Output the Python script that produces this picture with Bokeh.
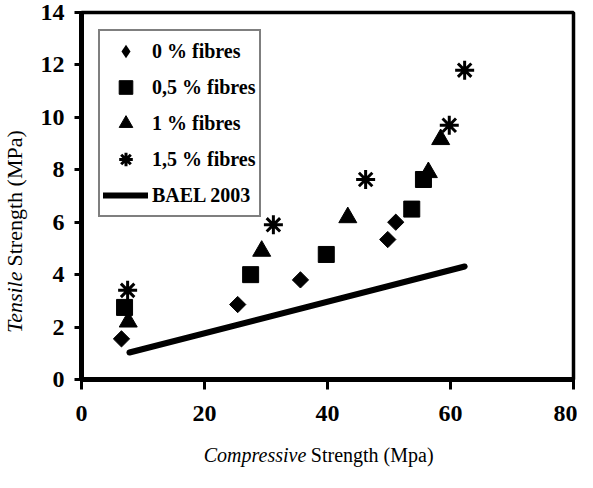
import math
from bokeh.plotting import figure
from bokeh.layouts import row, column
from bokeh.models import Range1d, Legend, LegendItem, FixedTicker
from bokeh.core.properties import value
from bokeh.embed import file_html
from bokeh.resources import INLINE

# Data
c_0 = [6.5, 25.4, 35.6, 49.8, 51.1]
t_0 = [1.55, 2.86, 3.8, 5.34, 6.0]
c_05 = [7.0, 27.5, 39.8, 53.7, 55.6]
t_05 = [2.75, 4.0, 4.77, 6.5, 7.63]
c_1 = [7.6, 29.3, 43.3, 56.4, 58.4]
t_1 = [2.2, 4.9, 6.18, 7.9, 9.16]
c_15 = [7.5, 31.2, 46.2, 59.8, 62.3]
t_15 = [3.4, 5.9, 7.63, 9.7, 11.8]
bael_c = [7.8, 62.3]
bael_t = [1.03, 4.31]

labels = ["0 % fibres", "0,5 % fibres", "1 % fibres", "1,5 % fibres", "BAEL 2003"]
x_ticks = [0, 20, 40, 60, 80]
y_ticks = [0, 2, 4, 6, 8, 10, 12, 14]
x_title = ["Compressive", "Strength (Mpa)"]
y_title = ["Tensile", "Strength (MPa)"]

FONT = "Liberation Serif"

LEFT_W = 32
BOTTOM_H = 30
TOTAL_W = 577
TOTAL_H = 470

p = figure(width=TOTAL_W - LEFT_W, height=TOTAL_H - BOTTOM_H, output_backend="svg",
           toolbar_location=None, x_range=Range1d(0, 80), y_range=Range1d(0, 14),
           min_border_left=49, min_border_right=4, min_border_top=12, min_border_bottom=61)
p.xgrid.visible = False
p.ygrid.visible = False
p.background_fill_color = "white"
p.border_fill_color = "white"
p.outline_line_color = "black"
p.outline_line_width = 3.5

p.xaxis.ticker = FixedTicker(ticks=x_ticks)
p.yaxis.ticker = FixedTicker(ticks=y_ticks)
for ax in (p.xaxis, p.yaxis):
    ax.axis_line_width = 5
    ax.axis_line_color = "black"
    ax.major_tick_line_width = 3
    ax.major_tick_line_color = "black"
    ax.major_tick_in = 0
    ax.minor_tick_line_color = None
    ax.major_label_text_font = FONT
    ax.major_label_text_font_style = "bold"
    ax.major_label_text_font_size = "24px"
    ax.major_label_text_color = "black"
p.xaxis.major_tick_out = 10
p.yaxis.major_tick_out = 7
p.xaxis.major_label_standoff = 16
p.yaxis.major_label_standoff = 10

# 0 % fibres: diamonds drawn as rotated squares; a zero-size diamond series gives the legend key
r0 = p.scatter(c_0, t_0, marker="square", angle=math.pi / 4, size=11.5, color="black")
r0_key = p.scatter(c_0, t_0, marker="diamond", size=0, fill_color="black", line_color=None)
r05 = p.scatter(c_05, t_05, marker="square", size=16, color="black")
r1 = p.scatter(c_1, t_1, marker="triangle", size=18, color="black")
r15 = p.scatter(c_15, t_15, marker="asterisk", size=19, line_color="black", line_width=3)
rl = p.line(bael_c, bael_t, line_color="black", line_width=6, line_cap="round")

legend = Legend(items=[LegendItem(label=labels[0], renderers=[r0_key]),
                       LegendItem(label=labels[1], renderers=[r05]),
                       LegendItem(label=labels[2], renderers=[r1]),
                       LegendItem(label=labels[3], renderers=[r15]),
                       LegendItem(label=labels[4], renderers=[rl])],
                location="top_left")
legend.margin = 17
legend.padding = 3
legend.spacing = 2
legend.glyph_width = 45
legend.glyph_height = 34
legend.label_height = 34
legend.label_standoff = 4
legend.label_text_font = FONT
legend.label_text_font_style = "bold"
legend.label_text_font_size = "20px"
legend.label_text_color = "black"
legend.border_line_color = "black"
legend.border_line_width = 2.5
legend.background_fill_color = "white"
legend.background_fill_alpha = 1
p.add_layout(legend, "center")


def blank(w, h):
    f = figure(width=w, height=h, output_backend="svg", toolbar_location=None,
               x_range=Range1d(0, w), y_range=Range1d(0, h),
               x_axis_location=None, y_axis_location=None, min_border=0)
    f.grid.visible = False
    f.outline_line_color = None
    f.background_fill_color = "white"
    f.border_fill_color = "white"
    return f


# y-axis title (italic first word), in a strip left of the plot
yl = blank(LEFT_W, TOTAL_H)
yl.text(x=[14], y=[199], text=[y_title[0]], angle=math.pi / 2,
        text_font=value(FONT), text_font_style="italic", text_font_size="22px",
        text_align="right", text_baseline="middle", text_color="black")
yl.text(x=[14], y=[204], text=[y_title[1]], angle=math.pi / 2,
        text_font=value(FONT), text_font_style="normal", text_font_size="22px",
        text_align="left", text_baseline="middle", text_color="black")

# x-axis title (italic first word), in a strip below the plot
xl = blank(TOTAL_W - LEFT_W, BOTTOM_H)
xl.text(x=[249], y=[16], text=[x_title[0]],
        text_font=value(FONT), text_font_style="italic", text_font_size="20px",
        text_align="right", text_baseline="middle", text_color="black")
xl.text(x=[254], y=[16], text=[x_title[1]],
        text_font=value(FONT), text_font_style="normal", text_font_size="20px",
        text_align="left", text_baseline="middle", text_color="black")

layout = row(yl, column(p, xl))

open("out.html", "w").write(file_html(layout, INLINE))
